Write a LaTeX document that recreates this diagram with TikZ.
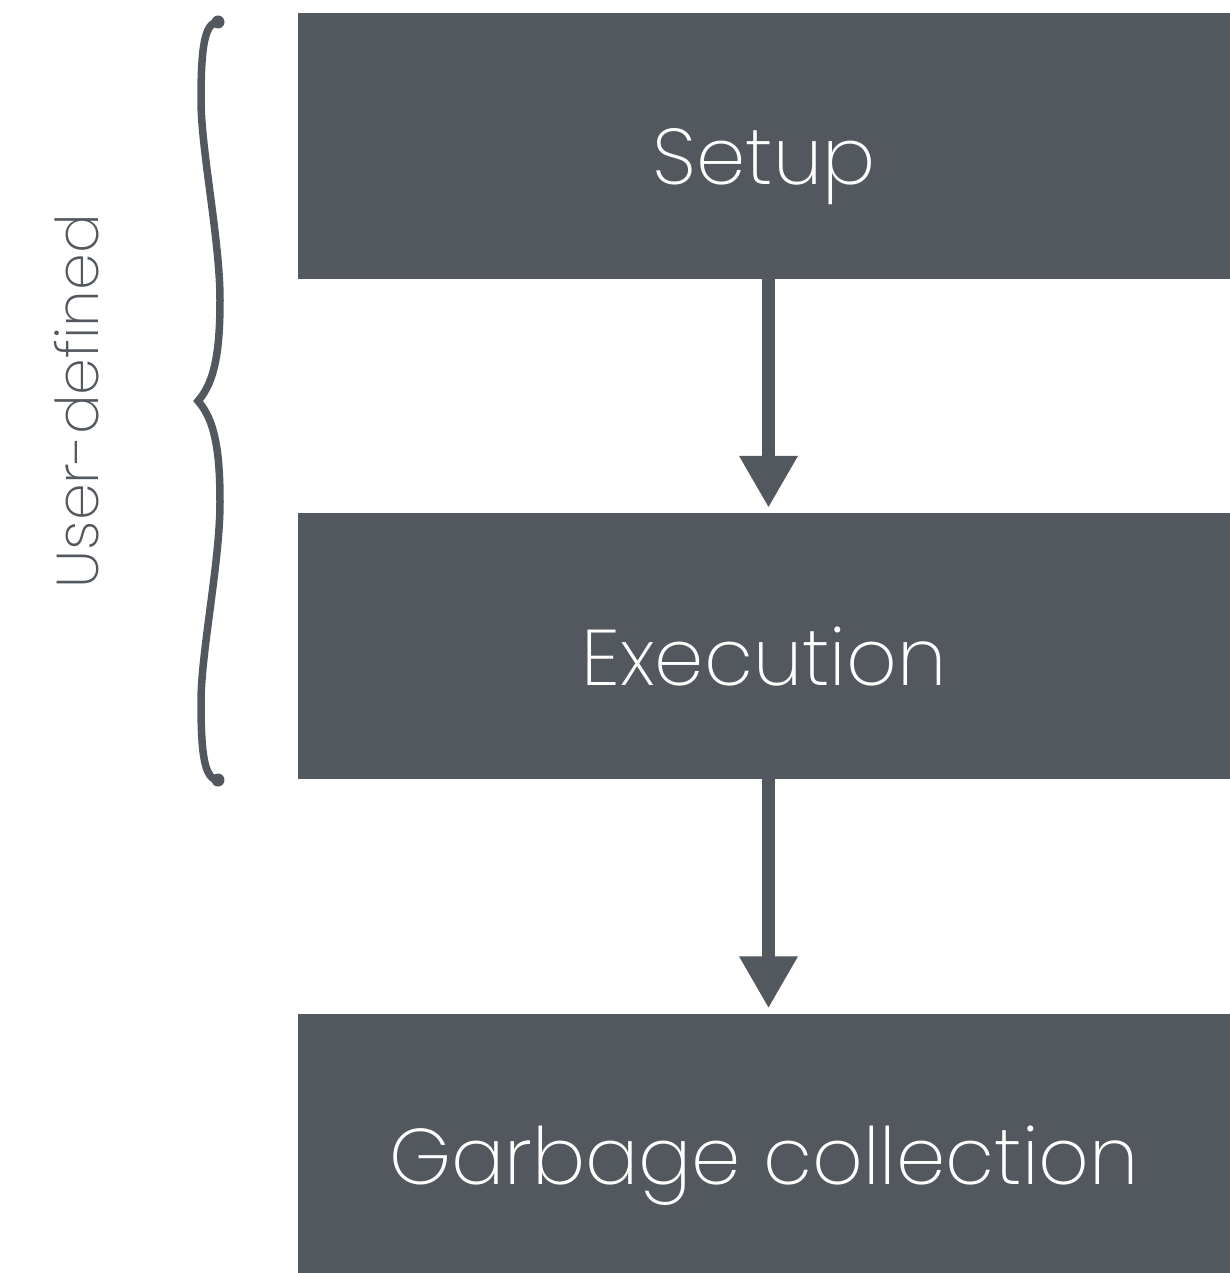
\documentclass[tikz,border=0pt]{standalone}
\usepackage{fontspec}
\setmainfont{Poppins ExtraLight}
\usetikzlibrary{arrows.meta}
\definecolor{slate}{HTML}{53575E}
\begin{document}
\begin{tikzpicture}[x=1pt,y=-1pt,
  stage/.style={fill=slate,text=white,inner sep=0pt,minimum width=932pt,minimum height=266pt,
    text height=0pt,text depth=0pt,font=\fontsize{79}{80}\selectfont},
  flow/.style={draw=slate,line width=13pt,shorten >=5pt,-{Triangle[width=55pt,length=52pt]}}]
\useasboundingbox (0,0) rectangle (1230,1273);
% stages, text set on a baseline below the box centre
\node[stage] (setup) at (764,146) {\raisebox{-39pt}[0pt][0pt]{Setup}};
\node[stage] (exec) at (764,646) {\raisebox{-39pt}[0pt][0pt]{Execution}};
\node[stage,minimum height=260pt] (gc) at (764,1143.5) {\raisebox{-41pt}[0pt][0pt]{Garbage collection}};
\draw[flow] (setup.south -| 768.5,0) -- (exec.north -| 768.5,0);
\draw[flow] (exec.south -| 768.5,0) -- (gc.north -| 768.5,0);
% curly brace spanning the first two stages
\draw[slate,line width=7.5pt,line cap=round,line join=miter]
  (216,22) .. controls (205,26) and (201,45) .. (201,100)
  .. controls (201,150) and (220,240) .. (220,300)
  .. controls (220,350) and (215,382) .. (198,401)
  .. controls (215,420) and (220,452) .. (220,502)
  .. controls (220,562) and (201,652) .. (201,702)
  .. controls (201,757) and (205,776) .. (216,780);
\fill[slate] (218,22) circle (6.5) (218,780) circle (6.5);
\node[rotate=90,text=slate,font=\fontsize{59}{62}\selectfont] (lbl) at (77,401) {User-defined};
\end{tikzpicture}
\end{document}
